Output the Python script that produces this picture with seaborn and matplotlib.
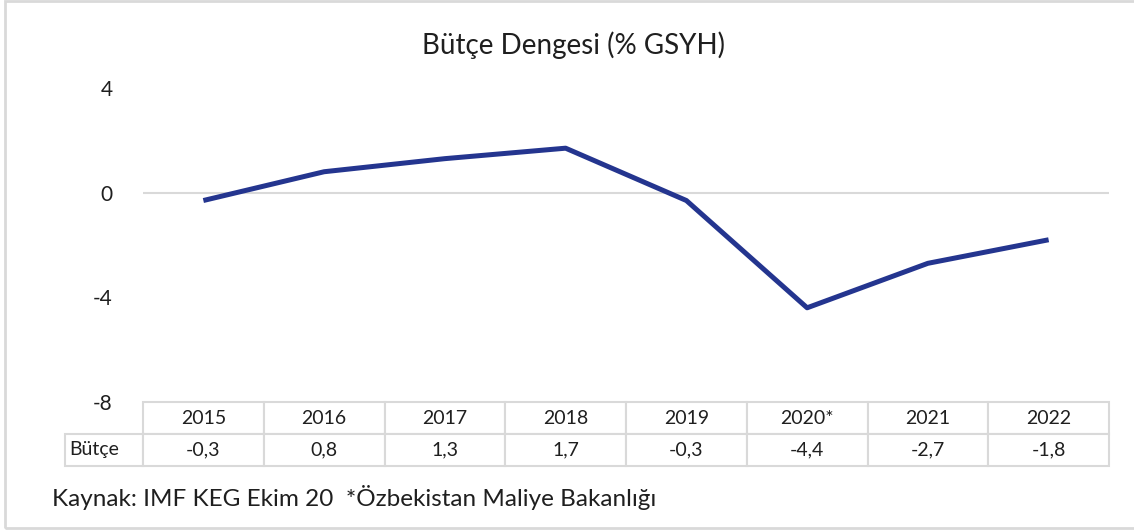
import matplotlib
matplotlib.use("Agg")
import matplotlib.pyplot as plt
import pandas as pd
import seaborn as sns
from matplotlib.patches import Rectangle

# chart data
years = ["2015", "2016", "2017", "2018", "2019", "2020*", "2021", "2022"]
butce = [-0.3, 0.8, 1.3, 1.7, -0.3, -4.4, -2.7, -1.8]
yticks = [4, 0, -4, -8]
title = "Bütçe Dengesi (% GSYH)"
row_label = "Bütçe"
source = "Kaynak: IMF KEG Ekim 20  *Özbekistan Maliye Bakanlığı"

LINE = "#24358f"
GRID = "#d9d9d9"
TXT = "#1f1f1f"


def fmt(v):
    return "{:.1f}".format(v).replace(".", ",")


def main():
    sns.set_theme(style="white")
    plt.rcParams["font.family"] = ["Lato", "DejaVu Sans"]

    W, H = 1134, 530
    fig = plt.figure(figsize=(W / 100, H / 100), dpi=100)
    ax = fig.add_axes([143 / W, 1 - 402 / H, (1109 - 143) / W, (402 - 88) / H])

    df = pd.DataFrame({"pos": range(len(years)), "val": butce})
    sns.lineplot(data=df, x="pos", y="val", ax=ax, color=LINE, linewidth=3.6,
                 solid_capstyle="butt")

    ax.set_xlim(-0.5, len(years) - 0.5)
    ax.set_ylim(min(yticks), max(yticks))
    ax.axhline(0, color=GRID, linewidth=1.5, zorder=0)
    ax.set_yticks(yticks)
    ax.set_yticklabels([str(t) for t in yticks], fontsize=15, color=TXT)
    ax.tick_params(axis="y", length=0, pad=22)
    ax.set_xticks([])
    ax.set_xlabel("")
    ax.set_ylabel("")
    for s in ax.spines.values():
        s.set_visible(False)

    # data table under the plot
    first_w = 78
    col_w = [first_w] + [120.75] * len(years)
    tot = sum(col_w)
    cells = [[""] + years, [row_label] + [fmt(v) for v in butce]]
    tbl_h = (466 - 402) / (402 - 88)
    tbl = ax.table(cellText=cells, colWidths=[c / tot for c in col_w],
                   cellLoc="center",
                   bbox=[-first_w / 966, -tbl_h, tot / 966, tbl_h])
    tbl.auto_set_font_size(False)
    for (r, c), cell in tbl.get_celld().items():
        cell.set_edgecolor(GRID)
        cell.set_linewidth(1.5)
        cell.get_text().set_fontsize(14)
        cell.get_text().set_color(TXT)
        if r == 0 and c == 0:
            cell.visible_edges = ""
        if r == 1 and c == 0:
            cell.set_text_props(ha="left")
            cell.PAD = 0.05

    fig.text(573 / W, 1 - 45 / H, title, ha="center", va="center",
             fontsize=20, color=TXT)
    fig.text(52 / W, 1 - 497 / H, source, ha="left", va="center",
             fontsize=17.5, color=TXT)

    fig.patches.append(Rectangle((5 / W, 1 - 528 / H), 1.0, (527) / H,
                                 transform=fig.transFigure, fill=False,
                                 edgecolor=GRID, linewidth=2))

    fig.savefig("out.png", dpi=100)


if __name__ == "__main__":
    main()
